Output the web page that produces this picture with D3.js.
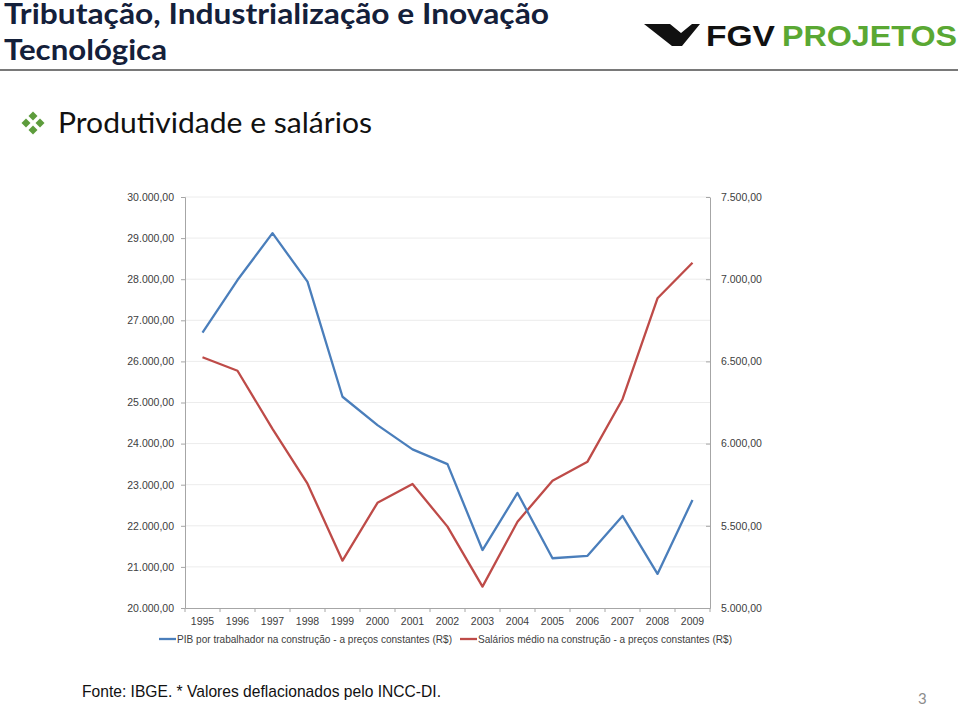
<!DOCTYPE html>
<html>
<head>
<meta charset="utf-8">
<script src="https://cdn.jsdelivr.net/npm/d3@7"></script>
<style>
  body { margin: 0; background: #fff; }
  svg { display: block; }
  .tick text { font-family: "Liberation Sans", Arial, sans-serif; font-size: 10.5px; fill: #404040; }
  .grid line { stroke: #ececec; }
</style>
</head>
<body>
<div id="chart-div"></div>
<script>
// dados (R$ constantes)
const years = ["1995","1996","1997","1998","1999","2000","2001","2002","2003","2004","2005","2006","2007","2008","2009"];
const pibTrabalhador = [26700, 27980, 29120, 27940, 25140, 24450, 23860, 23500, 21410, 22800, 21210, 21270, 22240, 20830, 22630];
const salarioMedio = [6525, 6443, 6090, 5756, 5288, 5640, 5754, 5495, 5130, 5525, 5774, 5890, 6270, 6884, 7100];
const seriesNames = [
  "PIB por trabalhador na construção - a preços constantes (R$)",
  "Salários médio na construção - a preços constantes (R$)"
];
const leftTicks = [20000, 21000, 22000, 23000, 24000, 25000, 26000, 27000, 28000, 29000, 30000];
const rightTicks = [5000, 5500, 6000, 6500, 7000, 7500];

const W = 960, H = 708;
const margin = {top: 197, right: 250, bottom: 100, left: 185};
const colors = {pib: "#4a7ebb", sal: "#be4b48"};

const ptBR = d3.formatLocale({decimal: ",", thousands: ".", grouping: [3], currency: ["R$", ""]});
const fmt = ptBR.format(",.2f");

const svg = d3.select("#chart-div").append("svg")
  .attr("width", W)
  .attr("height", H);

// --- cabeçalho
const title = svg.append("g")
  .attr("font-family", "Lato, 'Open Sans', sans-serif")
  .attr("font-weight", "bold")
  .attr("fill", "#14203a");
title.append("text").attr("x", 4).attr("y", 24).attr("font-size", 28)
  .attr("textLength", 545).attr("lengthAdjust", "spacingAndGlyphs")
  .text("Tributação, Industrialização e Inovação");
title.append("text").attr("x", 4).attr("y", 60).attr("font-size", 28)
  .attr("textLength", 163).attr("lengthAdjust", "spacingAndGlyphs")
  .text("Tecnológica");

svg.append("line")
  .attr("x1", 0).attr("x2", 958).attr("y1", 70).attr("y2", 70)
  .attr("stroke", "#4d4d4d").attr("stroke-width", 1.6);

// logo FGV Projetos
const logo = svg.append("g");
logo.append("path")
  .attr("d", "M644,24 L670,24 L681,33 L692,24 L700,24 L682,46 L672,46 Z")
  .attr("fill", "#111");
logo.append("text")
  .attr("x", 706).attr("y", 46)
  .attr("font-family", "'Liberation Sans', Arial, sans-serif")
  .attr("font-weight", "bold").attr("font-size", 30)
  .attr("textLength", 69).attr("lengthAdjust", "spacingAndGlyphs")
  .attr("fill", "#111").text("FGV");
logo.append("text")
  .attr("x", 782).attr("y", 46)
  .attr("font-family", "'Liberation Sans', Arial, sans-serif")
  .attr("font-weight", "bold").attr("font-size", 30)
  .attr("textLength", 175).attr("lengthAdjust", "spacingAndGlyphs")
  .attr("fill", "#5aa833").text("PROJETOS");

// marcador + subtítulo
const bullet = svg.append("g").attr("fill", "#5d9c3c");
[[33, 116], [26, 123], [40, 123], [33, 130]].forEach(p => {
  bullet.append("path")
    .attr("d", `M${p[0]},${p[1] - 4.5} L${p[0] + 4.5},${p[1]} L${p[0]},${p[1] + 4.5} L${p[0] - 4.5},${p[1]} Z`);
});
svg.append("text")
  .attr("x", 58).attr("y", 133)
  .attr("font-family", "Lato, 'Open Sans', sans-serif")
  .attr("font-size", 28)
  .attr("textLength", 314).attr("lengthAdjust", "spacingAndGlyphs")
  .attr("fill", "#111")
  .text("Produtividade e salários");

// --- gráfico
const width = W - margin.left - margin.right;   // 525
const height = H - margin.top - margin.bottom;  // 411

const g = svg.append("g")
  .attr("transform", "translate(" + margin.left + "," + margin.top + ")");

const x = d3.scaleBand().domain(years).range([0, width]);
const yL = d3.scaleLinear().domain([20000, 30000]).range([height, 0]);
const yR = d3.scaleLinear().domain([5000, 7500]).range([height, 0]);

// linhas de grade
g.append("g").attr("class", "grid")
  .selectAll("line")
  .data(leftTicks.slice(1))
  .enter().append("line")
    .attr("x1", 0).attr("x2", width)
    .attr("y1", d => yL(d)).attr("y2", d => yL(d));

// eixo esquerdo
const axL = g.append("g")
  .call(d3.axisLeft(yL).tickValues(leftTicks).tickFormat(fmt).tickSize(4).tickPadding(7));
axL.select(".domain").attr("stroke", "#a6a6a6");
axL.selectAll(".tick line").attr("stroke", "#a6a6a6");

// eixo direito
const axR = g.append("g")
  .attr("transform", "translate(" + width + ",0)")
  .call(d3.axisRight(yR).tickValues(rightTicks).tickFormat(fmt).tickSize(0).tickPadding(11));
axR.select(".domain").attr("stroke", "#a6a6a6");
axR.selectAll(".tick").append("line")
  .attr("x1", -4).attr("x2", 0).attr("stroke", "#a6a6a6");

// eixo x (marcas nas divisões entre categorias)
const axX = g.append("g")
  .attr("transform", "translate(0," + height + ")")
  .call(d3.axisBottom(x).tickSize(0).tickPadding(10));
axX.select(".domain").attr("stroke", "#a6a6a6");
axX.selectAll(".bound")
  .data(years.map(d => x(d)).concat([width]))
  .enter().append("line")
    .attr("class", "bound")
    .attr("x1", d => d).attr("x2", d => d)
    .attr("y1", 0).attr("y2", 4)
    .attr("stroke", "#a6a6a6");

// séries
const cx = d => x(d) + x.bandwidth() / 2;

const linePib = d3.line()
  .x((d, i) => cx(years[i]))
  .y(d => yL(d));
const lineSal = d3.line()
  .x((d, i) => cx(years[i]))
  .y(d => yR(d));

g.append("path")
  .datum(salarioMedio)
  .attr("fill", "none")
  .attr("stroke", colors.sal)
  .attr("stroke-width", 2.3)
  .attr("stroke-linejoin", "round")
  .attr("d", lineSal);

g.append("path")
  .datum(pibTrabalhador)
  .attr("fill", "none")
  .attr("stroke", colors.pib)
  .attr("stroke-width", 2.3)
  .attr("stroke-linejoin", "round")
  .attr("d", linePib);

// legenda
const legend = svg.append("g")
  .attr("font-family", "'Liberation Sans Narrow', 'Arial Narrow', Arial, sans-serif")
  .attr("font-size", 11.5)
  .attr("fill", "#404040");
const legendItems = [
  {name: seriesNames[0], color: colors.pib, x0: 159, tx: 177, tw: 275},
  {name: seriesNames[1], color: colors.sal, x0: 460, tx: 478, tw: 254}
];
legendItems.forEach(it => {
  legend.append("line")
    .attr("x1", it.x0).attr("x2", it.x0 + 17)
    .attr("y1", 639).attr("y2", 639)
    .attr("stroke", it.color).attr("stroke-width", 2.3);
  legend.append("text")
    .attr("x", it.tx).attr("y", 643)
    .attr("textLength", it.tw).attr("lengthAdjust", "spacingAndGlyphs")
    .text(it.name);
});

// rodapé
svg.append("text")
  .attr("x", 82).attr("y", 697)
  .attr("font-family", "'Liberation Sans Narrow', 'Arial Narrow', Arial, sans-serif")
  .attr("font-size", 17)
  .attr("textLength", 359).attr("lengthAdjust", "spacingAndGlyphs")
  .attr("fill", "#111")
  .text("Fonte: IBGE. * Valores deflacionados pelo INCC-DI.");

svg.append("text")
  .attr("x", 918).attr("y", 704)
  .attr("font-family", "Lato, sans-serif")
  .attr("font-size", 15)
  .attr("fill", "#8c8c8c")
  .text("3");
</script>
</body>
</html>
